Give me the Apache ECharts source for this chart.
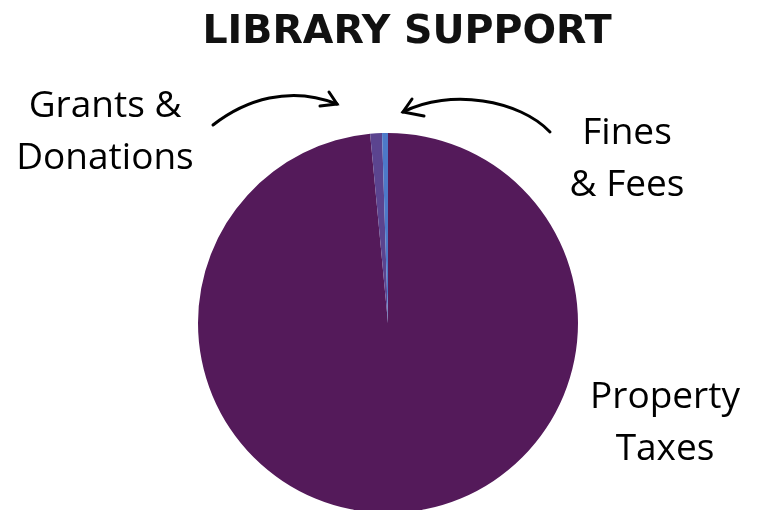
<!DOCTYPE html>
<html><head><meta charset="utf-8">
<script src="https://cdn.jsdelivr.net/npm/echarts@6/dist/echarts.min.js"></script>
<style>html,body{margin:0;padding:0;background:#fff}#c{width:765px;height:510px}</style>
</head><body><div id="c"></div>
<script>
const title = 'LIBRARY SUPPORT';
const categories = ['Property Taxes', 'Grants & Donations', 'Fines & Fees'];
const labelLines = [['Property', 'Taxes'], ['Grants &', 'Donations'], ['Fines', '& Fees']];
const values = [98.5, 1.0, 0.5];
const colors = ['#541a5a', '#5b448f', '#4d79c8'];

const chart = echarts.init(document.getElementById('c'));
const font = '"Open Sans", sans-serif';
const labelPos = [[665, 423], [105, 132], [627, 159]];
const texts = labelLines.map((l, i) => ({
  type: 'text', x: labelPos[i][0], y: labelPos[i][1],
  style: { text: l.join('\n'), font: '500 37px ' + font, fill: '#000', align: 'center', verticalAlign: 'middle', lineHeight: 52 }
}));
function arrow(p0, c1, c2, p1, h1, h2) {
  return [{
    type: 'bezierCurve', shape: { x1: p0[0], y1: p0[1], cpx1: c1[0], cpy1: c1[1], cpx2: c2[0], cpy2: c2[1], x2: p1[0], y2: p1[1] },
    style: { stroke: '#000', lineWidth: 3, fill: null, lineCap: 'round' }
  }, {
    type: 'polyline', shape: { points: [h1, p1, h2] },
    style: { stroke: '#000', lineWidth: 3, fill: null, lineCap: 'round', lineJoin: 'miter' }
  }];
}
chart.setOption({
  animation: false,
  title: { text: title, left: 402, textAlign: 'center', top: 8, textStyle: { fontFamily: '"DejaVu Sans", sans-serif', fontSize: 39.5, fontWeight: 'bold', color: '#111' } },
  graphic: [...texts,
    ...arrow([213, 125], [245, 100], [290, 85], [337, 104], [329, 92], [320, 106]),
    ...arrow([550, 132], [520, 100], [450, 88], [403, 112], [412, 99], [424, 116])
  ],
  series: [{
    type: 'pie', radius: 190, center: [388, 323], startAngle: 90, clockwise: true,
    label: { show: false }, labelLine: { show: false },
    itemStyle: { borderWidth: 0 },
    data: categories.map((c, i) => ({ name: c, value: values[i], itemStyle: { color: colors[i] } }))
  }]
});
</script></body></html>
